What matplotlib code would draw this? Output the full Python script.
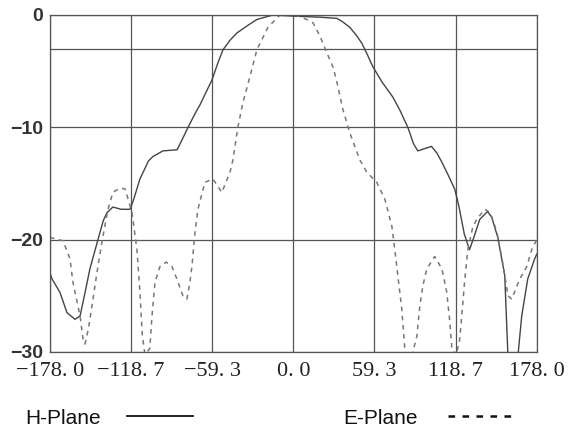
import matplotlib
matplotlib.use("Agg")
import matplotlib.pyplot as plt
from matplotlib.lines import Line2D

# Radiation pattern data (angle in degrees, relative level in dB)
h_angle = [-178, -176.5, -170.7, -165.6, -159.7, -156, -152, -148.8, -142.9, -139,
           -136.3, -132, -126, -119.5, -117, -112.2, -106, -102.7, -95.4, -85,
           -81, -77, -72, -68.3, -59.6, -55, -51.5, -46, -41.3, -33,
           -26.7, -15, 0, 20, 31.8, 36, 41.3, 46, 50, 54,
           58.1, 65, 72.7, 78, 83.7, 88, 91, 96, 101, 105,
           109, 113, 118, 121, 125, 128.8, 132, 136.3, 142, 145,
           149.5, 154.6, 156.8, 158, 161, 163.5, 164.5, 167, 171.4, 176.5, 178]
h_db = [-23.0, -23.5, -24.7, -26.5, -27.1, -26.8, -24.5, -22.6, -20.0, -18.3,
        -17.6, -17.1, -17.3, -17.3, -16.5, -14.6, -13.0, -12.6, -12.1, -12.0,
        -11.0, -10.0, -8.8, -8.0, -5.8, -4.2, -3.1, -2.2, -1.6, -0.9,
        -0.4, 0.0, -0.1, -0.2, -0.3, -0.6, -1.1, -1.8, -2.5, -3.5,
        -4.6, -6.0, -7.3, -8.5, -10.0, -11.5, -12.1, -11.9, -11.7, -12.3,
        -13.2, -14.2, -15.5, -17.0, -19.5, -20.9, -19.8, -18.2, -17.5, -18.0,
        -19.8, -23.2, -30.0, -31.5, -32.0, -31.5, -30.0, -26.8, -23.5, -21.7, -21.3]

e_angle = [-178, -172, -168.5, -163.4, -161.2, -156, -153.9, -152.4, -150, -147.3,
           -143.6, -140, -135.6, -132, -126.8, -123, -118, -114.4, -112.2, -110.5,
           -108.6, -105, -103.4, -101.2, -97.6, -93, -88.8, -85.2, -80.8, -77.9,
           -75.7, -74.2, -72, -69.8, -64.7, -58.8, -52.3, -46.4, -44.2, -40.6,
           -36.9, -31.8, -26.7, -18.6, -9.8, 1.2, 9.9, 14.4, 19.5, 24.6,
           28.9, 31.9, 36.2, 41.3, 48.6, 53.7, 61, 66.9, 72, 74.2,
           76.4, 79.3, 81.5, 84, 87, 90.3, 92.5, 94.7, 97.6, 103.4,
           108.6, 112.2, 114.4, 115.9, 119, 121.5, 123, 125.4, 127.6, 131,
           134, 140, 144, 148.8, 153, 157, 159.7, 165.6, 170.7, 174.3, 178]
e_db = [-19.8, -20.0, -20.1, -21.7, -23.8, -26.8, -28.8, -29.3, -28.0, -25.9,
        -22.9, -20.2, -17.3, -15.8, -15.4, -15.5, -17.6, -20.9, -24.7, -28.5,
        -30.2, -29.7, -26.8, -23.8, -22.4, -22.0, -22.4, -23.5, -25.0, -25.3,
        -23.8, -22.4, -19.4, -17.3, -14.9, -14.6, -15.8, -14.0, -12.9, -10.0,
        -7.8, -5.5, -3.1, -1.1, 0.0, 0.0, -0.4, -0.7, -1.9, -3.4,
        -4.6, -6.0, -8.4, -10.5, -12.9, -14.0, -14.9, -16.4, -18.8, -20.9,
        -23.2, -26.2, -29.7, -30.5, -30.2, -28.6, -25.9, -24.1, -22.6, -21.5,
        -22.6, -24.7, -27.3, -29.7, -30.3, -29.0, -27.0, -23.5, -20.9, -19.0,
        -18.2, -17.3, -17.6, -19.3, -22.0, -25.0, -25.3, -23.5, -22.4, -20.9, -20.0]

x_ticks = [-178.0, -118.7, -59.3, 0.0, 59.3, 118.7, 178.0]
x_labels = ["\u2212178. 0", "\u2212118. 7", "\u221259. 3", "0. 0", "59. 3", "118. 7", "178. 0"]
y_grid = [0, -3, -10, -20, -30]
y_ticks = [0, -10, -20, -30]
y_labels = ["0", "\u221210", "\u221220", "\u221230"]

fig = plt.figure(figsize=(5.68, 4.41), dpi=100)
ax = fig.add_axes([0.088, 0.202, 0.857, 0.764])

ax.plot(h_angle, h_db, color="#444444", lw=1.0, ls="-")
ax.plot(e_angle, e_db, color="#777777", lw=1.1, ls=(0, (3, 3)))

for gx in x_ticks:
    ax.axvline(gx, color="#555555", lw=0.9, zorder=0)
for gy in y_grid:
    ax.axhline(gy, color="#555555", lw=0.9, zorder=0)

ax.set_xlim(-178, 178)
ax.set_ylim(-30, 0)
ax.set_xticks(x_ticks)
ax.set_xticklabels(x_labels, family="Liberation Serif", fontsize=16)
ax.set_yticks(y_ticks)
ax.set_yticklabels(y_labels, family="Liberation Sans", fontsize=14, weight="bold")
ax.tick_params(axis="x", length=0, pad=7, colors="#222222")
ax.tick_params(axis="y", length=0, pad=5, colors="#333333")
for s in ax.spines.values():
    s.set_color("#555555")
    s.set_linewidth(0.9)

# legend drawn below the plot
fig.text(25 / 568, 1 - 424 / 441, "H-Plane", family="Liberation Sans", fontsize=15,
         va="baseline", color="#111111")
fig.add_artist(Line2D([127 / 568, 193 / 568], [1 - 416 / 441] * 2, color="#111111", lw=1.3))
fig.text(343 / 568, 1 - 424 / 441, "E-Plane", family="Liberation Sans", fontsize=15,
         va="baseline", color="#111111")
fig.add_artist(Line2D([448 / 568, 511 / 568], [1 - 416 / 441] * 2, color="#111111", lw=1.8,
                      ls=(0, (2.64, 2.96))))

fig.savefig("out.png", dpi=100)
